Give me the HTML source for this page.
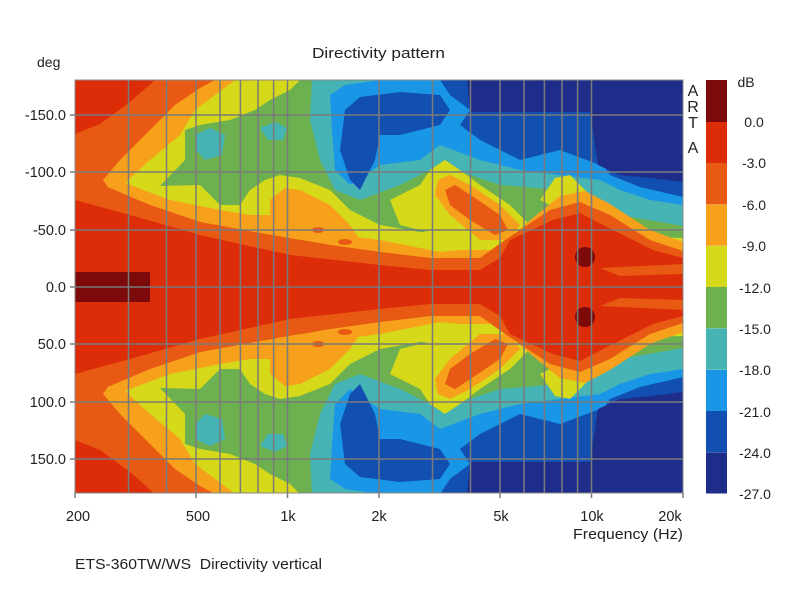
<!DOCTYPE html>
<html><head><meta charset="utf-8"><style>
body{margin:0;background:#fff;}
svg text{font-family:"Liberation Sans",Arial,sans-serif;fill:#222;}
</style></head><body>
<svg width="800" height="600" viewBox="0 0 800 600" xmlns="http://www.w3.org/2000/svg">
<defs>
<clipPath id="cp"><rect x="75" y="80" width="608" height="413"/></clipPath>
<g id="half">
<rect x="75" y="80" width="608" height="207" fill="#dc2c08"/>
<polygon fill="#e85a14" points="75,134 100,124 130,102 155,80 683,80 683,287 75,287"/>
<polygon fill="#f6a01c" points="103,180 120,160 150,130 175,105 200,88 215,80 683,80 683,260 480,262 430,258 380,252 330,245 290,238 260,233 200,222 150,205 110,190"/>
<polygon fill="#d6d81a" points="125,183 150,160 180,135 195,110 215,95 235,80 683,80 683,250 500,250 460,250 440,252 420,248 380,240 340,235 290,222 270,215 250,215 220,210 170,200"/>
<polygon fill="#6cb050" points="160,186 185,160 185,130 200,125 230,120 255,110 270,100 290,90 300,80 683,80 683,238 460,232 420,232 380,225 350,210 330,190 300,178 280,175 265,180 250,190 240,205 220,205 200,185"/>
<polygon fill="#46b4b4" points="312,80 683,80 683,226 620,215 560,190 500,185 440,165 400,185 360,200 335,190 320,160 310,120"/>
<polygon fill="#46b4b4" points="195,135 210,128 225,135 222,155 205,160 196,150"/>
<polygon fill="#46b4b4" points="260,128 275,122 287,128 283,140 268,140"/>
<polygon fill="#1a96e6" points="330,95 345,85 380,80 683,80 683,205 650,200 620,190 600,180 560,175 520,170 480,160 440,145 420,160 380,165 350,185 335,170 332,130"/>
<polygon fill="#1150b0" points="345,110 360,97 400,92 440,95 450,110 440,125 400,135 380,135 375,160 360,190 350,180 340,150"/>
<polygon fill="#1150b0" points="440,80 600,80 600,165 560,150 520,160 500,150 480,140 460,125 470,110 450,95"/>
<polygon fill="#1150b0" points="600,160 683,160 683,197 640,187 610,175"/>
<polygon fill="#1f2d8a" points="467,80 683,80 683,182 650,178 620,175 598,165 590,112 470,112"/>
<polygon fill="#d6d81a" points="430,170 445,160 460,170 480,185 510,205 530,225 520,245 480,245 440,235 400,225 390,200 420,185"/>
<polygon fill="#f6a01c" points="438,180 450,175 470,185 500,205 520,225 510,240 480,240 450,215 435,195"/>
<polygon fill="#e85a14" points="445,190 455,185 475,198 500,215 508,230 495,235 470,220 450,205"/>
<polygon fill="#d6d81a" points="540,200 555,178 570,175 590,195 560,210"/>
<polygon fill="#f6a01c" points="270,200 285,188 300,190 330,205 350,225 360,240 270,240"/>
<ellipse cx="318" cy="230" rx="6" ry="3" fill="#e85a14"/>
<ellipse cx="345" cy="242" rx="7" ry="3" fill="#e85a14"/>
<polygon fill="#f6a01c" points="495,250 540,212 560,196 585,191 610,204 650,230 683,242 683,287 495,287"/>
<polygon fill="#e85a14" points="75,190 110,188 150,205 200,222 260,233 330,245 380,252 430,258 480,258 505,240 550,210 580,202 610,215 650,240 683,251 683,287 75,287"/>
<polygon fill="#dc2c08" points="75,200 130,215 200,235 290,255 380,265 430,270 480,270 500,258 510,240 553,220 580,213 607,227 653,250 683,258 683,287 75,287"/>
<polygon fill="#e85a14" points="600,268 683,264 683,274 620,276"/>
<rect x="75" y="272" width="75" height="15" fill="#7c0a0a"/>
<ellipse cx="585" cy="257" rx="10" ry="10" fill="#7c0a0a"/>
</g>
</defs>
<g clip-path="url(#cp)">
<use href="#half"/>
<use href="#half" transform="matrix(1,0,0,-1,0,574)"/>
</g>
<g stroke="#7a7a7a" stroke-width="1.5">
<line x1="128.5" y1="80" x2="128.5" y2="493"/><line x1="166.5" y1="80" x2="166.5" y2="493"/><line x1="196" y1="80" x2="196" y2="493"/><line x1="220" y1="80" x2="220" y2="493"/><line x1="240.4" y1="80" x2="240.4" y2="493"/><line x1="258" y1="80" x2="258" y2="493"/><line x1="273.6" y1="80" x2="273.6" y2="493"/><line x1="287.5" y1="80" x2="287.5" y2="493"/><line x1="379" y1="80" x2="379" y2="493"/><line x1="432.5" y1="80" x2="432.5" y2="493"/><line x1="470.5" y1="80" x2="470.5" y2="493"/><line x1="500" y1="80" x2="500" y2="493"/><line x1="524" y1="80" x2="524" y2="493"/><line x1="544.4" y1="80" x2="544.4" y2="493"/><line x1="562" y1="80" x2="562" y2="493"/><line x1="577.6" y1="80" x2="577.6" y2="493"/><line x1="591.5" y1="80" x2="591.5" y2="493"/>
<line x1="75" y1="115" x2="683" y2="115"/><line x1="75" y1="172" x2="683" y2="172"/><line x1="75" y1="230" x2="683" y2="230"/><line x1="75" y1="287" x2="683" y2="287"/><line x1="75" y1="344" x2="683" y2="344"/><line x1="75" y1="402" x2="683" y2="402"/><line x1="75" y1="459" x2="683" y2="459"/>
<line x1="70" y1="115" x2="75" y2="115"/><line x1="70" y1="172" x2="75" y2="172"/><line x1="70" y1="230" x2="75" y2="230"/><line x1="70" y1="287" x2="75" y2="287"/><line x1="70" y1="344" x2="75" y2="344"/><line x1="70" y1="402" x2="75" y2="402"/><line x1="70" y1="459" x2="75" y2="459"/>
<line x1="75" y1="493" x2="75" y2="498"/><line x1="196" y1="493" x2="196" y2="498"/><line x1="287.5" y1="493" x2="287.5" y2="498"/><line x1="379" y1="493" x2="379" y2="498"/><line x1="500" y1="493" x2="500" y2="498"/><line x1="591.5" y1="493" x2="591.5" y2="498"/><line x1="683" y1="493" x2="683" y2="498"/>
</g>
<rect x="75" y="80" width="608" height="413" fill="none" stroke="#888" stroke-width="1"/>
<rect x="706" y="80" width="21" height="42" fill="#7c0a0a"/>
<rect x="706" y="122" width="21" height="41.3" fill="#dc2c08"/>
<rect x="706" y="163" width="21" height="41.3" fill="#e85a14"/>
<rect x="706" y="204.5" width="21" height="41.3" fill="#f6a01c"/>
<rect x="706" y="246" width="21" height="41.3" fill="#d6d81a"/>
<rect x="706" y="287" width="21" height="41.3" fill="#6cb050"/>
<rect x="706" y="328.5" width="21" height="41.3" fill="#46b4b4"/>
<rect x="706" y="370" width="21" height="41.3" fill="#1a96e6"/>
<rect x="706" y="411" width="21" height="41.3" fill="#1150b0"/>
<rect x="706" y="452.5" width="21" height="41" fill="#1f2d8a"/>
<text x="312" y="58" font-size="15" textLength="133" lengthAdjust="spacingAndGlyphs">Directivity pattern</text>
<text x="37" y="67" font-size="14">deg</text>
<g font-size="14.5" text-anchor="end">
<text x="66" y="120">-150.0</text><text x="66" y="177">-100.0</text><text x="66" y="235">-50.0</text><text x="66" y="292">0.0</text><text x="66" y="349">50.0</text><text x="66" y="407">100.0</text><text x="66" y="464">150.0</text>
</g>
<g font-size="14.5" text-anchor="middle">
<text x="78" y="521">200</text><text x="198" y="521">500</text><text x="288" y="521">1k</text><text x="379" y="521">2k</text><text x="501" y="521">5k</text><text x="592" y="521">10k</text><text x="670" y="521">20k</text>
</g>
<text x="573" y="539" font-size="14.5" textLength="110" lengthAdjust="spacingAndGlyphs">Frequency (Hz)</text>
<text x="75" y="569" font-size="14.5" textLength="247" lengthAdjust="spacingAndGlyphs">ETS-360TW/WS&#160;&#160;Directivity vertical</text>
<g font-size="16" text-anchor="middle"><text x="693" y="96">A</text><text x="693" y="112">R</text><text x="693" y="128">T</text><text x="693" y="153">A</text></g>
<g font-size="14" text-anchor="middle">
<text x="746" y="87">dB</text><text x="754" y="127">0.0</text><text x="754" y="168">-3.0</text><text x="754" y="210">-6.0</text><text x="754" y="251">-9.0</text><text x="755" y="293">-12.0</text><text x="755" y="334">-15.0</text><text x="755" y="375">-18.0</text><text x="755" y="417">-21.0</text><text x="755" y="458">-24.0</text><text x="755" y="499">-27.0</text>
</g>
</svg>
</body></html>
